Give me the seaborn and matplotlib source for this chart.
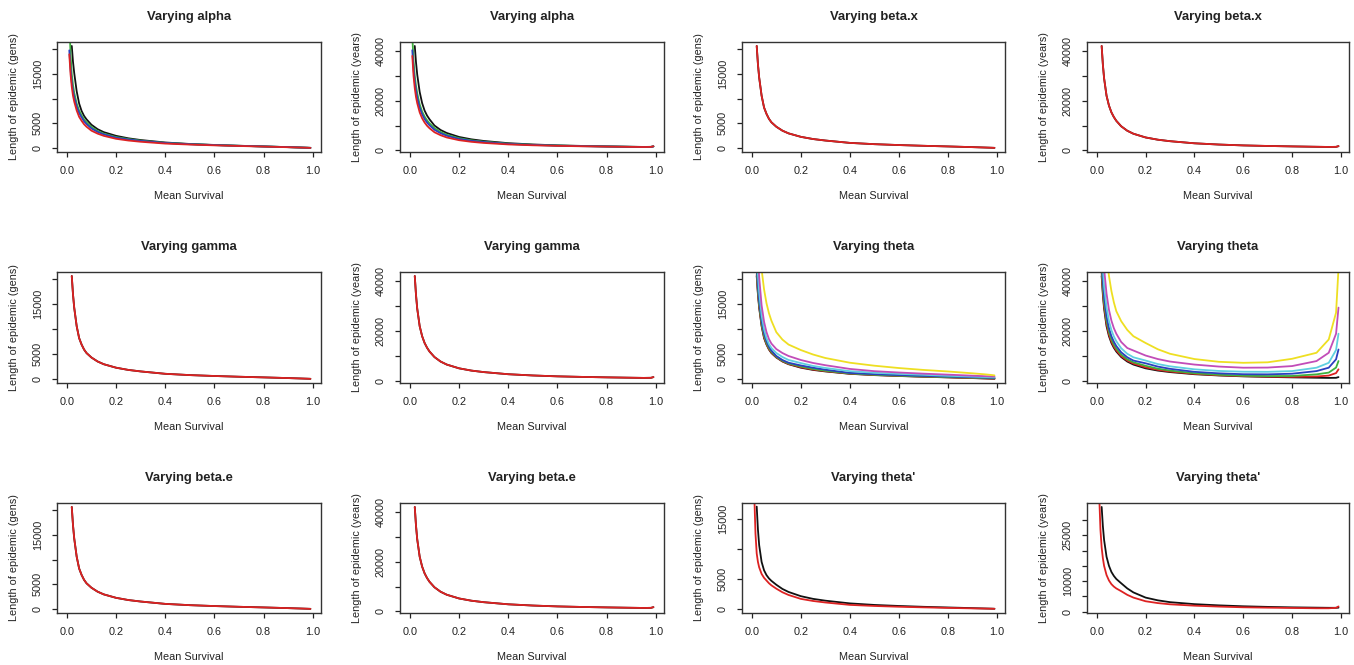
import numpy as np
import pandas as pd
import seaborn as sns
import matplotlib.pyplot as plt

sns.set_theme(style="ticks")
plt.rcParams["font.family"] = ["Liberation Sans", "DejaVu Sans"]

nan = np.nan

# Mean survival grid shared by every curve
survival = [0.01, 0.015, 0.02, 0.025, 0.03, 0.04, 0.05, 0.06, 0.07, 0.08, 0.1,
            0.125, 0.15, 0.2, 0.25, 0.3, 0.4, 0.5, 0.6, 0.7, 0.8, 0.9, 0.95,
            0.98, 0.99]

# Baseline curve (gamma, beta.x, beta.e panels)
base_gens = [nan, nan, 20700, 17000, 14300, 10600, 8200, 6900, 5900, 5200, 4300,
             3500, 2950, 2250, 1800, 1500, 1020, 760, 580, 430, 300, 160, 80, 30, 10]
base_years = [nan, nan, 42000, 34500, 29000, 22000, 18000, 15300, 13400, 11900, 9700,
              7900, 6700, 5200, 4300, 3700, 2850, 2350, 2000, 1780, 1600, 1450, 1380,
              1420, 1700]

# Varying alpha
alpha_gens_black = [nan, nan, 20700, 17500, 15200, 11500, 9000, 7500, 6500, 5800, 4700,
                    3800, 3200, 2450, 1950, 1600, 1100, 800, 600, 440, 300, 160, 80, 30, 10]
alpha_gens_green = [26000, 19000, 15000, 12800, 11200, 9000, 7600, 6600, 5800, 5200, 4250,
                    3450, 2900, 2200, 1800, 1480, 1030, 770, 580, 430, 300, 160, 80, 30, 10]
alpha_gens_blue = [19800, 16000, 13300, 11600, 10300, 8400, 7100, 6200, 5400, 4850, 3950,
                   3250, 2750, 2080, 1700, 1420, 1000, 750, 570, 420, 295, 155, 80, 30, 10]
alpha_gens_red = [19000, 15000, 12400, 10600, 9400, 7600, 6300, 5500, 4800, 4300, 3500,
                  2900, 2450, 1850, 1500, 1250, 880, 680, 520, 390, 270, 140, 70, 25, 5]
alpha_years_black = [nan, nan, 42000, 35500, 30500, 23500, 19000, 16000, 14000, 12500, 10000,
                     8200, 7000, 5400, 4450, 3800, 2900, 2380, 2020, 1790, 1610, 1460, 1390,
                     1420, 1600]
alpha_years_green = [46000, 36000, 30000, 26000, 23000, 18500, 15600, 13600, 12100, 10900, 9000,
                     7400, 6300, 4900, 4050, 3500, 2700, 2250, 1950, 1740, 1580, 1440, 1380,
                     1410, 1600]
alpha_years_blue = [40300, 32500, 27500, 24000, 21200, 17200, 14500, 12600, 11200, 10100, 8300,
                    6900, 5900, 4600, 3850, 3350, 2600, 2180, 1900, 1700, 1560, 1430, 1370,
                    1410, 1600]
alpha_years_red = [38000, 30000, 25000, 21500, 19000, 15300, 12900, 11200, 9900, 8900, 7300,
                   6100, 5200, 4100, 3450, 3000, 2400, 2050, 1820, 1650, 1520, 1400, 1350,
                   1400, 1650]

# Varying theta
theta_gens_red = [nan, nan, 21000, 17300, 14600, 10800, 8400, 7000, 6000, 5300, 4350,
                  3550, 3000, 2350, 1880, 1560, 1050, 790, 600, 450, 320, 180, 110, 60, 45]
theta_gens_green = [nan, nan, 21800, 17800, 15000, 11100, 8700, 7200, 6200, 5450, 4450,
                    3650, 3100, 2500, 2000, 1650, 1100, 830, 640, 490, 370, 240, 170, 120, 100]
theta_gens_blue = [nan, nan, 23000, 18800, 15800, 11700, 9200, 7600, 6500, 5700, 4600,
                   3800, 3250, 2700, 2250, 1850, 1200, 950, 760, 600, 470, 330, 260, 220, 200]
theta_gens_cyan = [nan, nan, 26000, 21000, 17500, 12800, 10000, 8200, 7000, 6200, 5200,
                   4400, 3800, 3180, 2600, 2200, 1550, 1230, 1010, 820, 620, 450, 370, 320, 300]
theta_gens_magenta = [nan, nan, 32000, 25000, 20500, 14800, 11500, 9400, 8000, 7100, 6000,
                      5200, 4600, 3800, 3200, 2750, 2000, 1550, 1280, 1050, 850, 640, 540,
                      480, 460]
theta_gens_yellow = [nan, nan, 50000, 40000, 32000, 22000, 18000, 15200, 13200, 11700, 9400,
                     7900, 6900, 5800, 4900, 4200, 3250, 2650, 2180, 1800, 1490, 1120, 920,
                     770, 700]
theta_years_red = [nan, nan, 43000, 35500, 30000, 23000, 18700, 15900, 13900, 12400, 10100,
                   8300, 7100, 5600, 4600, 3950, 3000, 2450, 2100, 1900, 1800, 1950, 2300,
                   3300, 4800]
theta_years_green = [nan, nan, 45000, 37500, 31700, 24300, 19800, 16800, 14700, 13100, 10700,
                     8800, 7600, 6200, 5050, 4300, 3250, 2650, 2250, 2100, 2150, 2800, 3500,
                     5500, 8100]
theta_years_blue = [nan, nan, 48000, 40000, 34000, 26000, 21200, 18000, 15800, 14100, 11600,
                    9600, 8300, 7200, 5900, 5000, 3800, 3200, 2850, 2800, 3050, 4100, 5450,
                    8800, 12700]
theta_years_cyan = [nan, nan, 54000, 45000, 38000, 29500, 24000, 20400, 17900, 16000, 13200,
                    11000, 9600, 8300, 6900, 6000, 4800, 4150, 3850, 3800, 4100, 5450, 7400,
                    12500, 19000]
theta_years_magenta = [nan, nan, 64000, 53000, 45000, 35000, 28500, 24200, 21200, 19000, 15700,
                       13300, 12300, 10300, 8900, 7900, 6700, 5900, 5450, 5500, 6100, 8100,
                       11400, 19000, 29400]
theta_years_yellow = [nan, nan, 95000, 78000, 66000, 50000, 42000, 36000, 31500, 28000, 24000,
                      20500, 18000, 15300, 12800, 11000, 8900, 7800, 7400, 7600, 9000, 11400,
                      16700, 27400, 45000]

# Varying theta'
thetap_gens_black = [nan, nan, 17000, 13200, 10600, 7800, 6400, 5600, 5050, 4650, 4000,
                     3300, 2800, 2100, 1650, 1350, 900, 640, 470, 330, 220, 110, 55, 20, 5]
thetap_gens_red = [19000, 12500, 9200, 7800, 6900, 5800, 5150, 4700, 4250, 3900, 3350,
                   2750, 2300, 1650, 1300, 1050, 650, 470, 340, 240, 150, 70, 35, 10, 0]
thetap_years_black = [nan, nan, 34300, 28000, 23500, 18000, 15000, 13000, 11700, 10700, 9300,
                      7600, 6300, 4600, 3700, 3100, 2450, 2050, 1750, 1550, 1400, 1300, 1250,
                      1250, 1300]
thetap_years_red = [38000, 27000, 21000, 17500, 15000, 12000, 10200, 9000, 8200, 7600, 6700,
                    5500, 4600, 3400, 2800, 2400, 1950, 1650, 1420, 1300, 1200, 1100, 1100,
                    1250, 1700]

x_ticks = [0.0, 0.2, 0.4, 0.6, 0.8, 1.0]
x_tick_labels = ["0.0", "0.2", "0.4", "0.6", "0.8", "1.0"]

colors = {
    "black": "#111111",
    "red": "#DD2222",
    "green": "#3DB03D",
    "blue": "#2B3FBF",
    "cyan": "#5FD0E0",
    "magenta": "#C24CB8",
    "yellow": "#EEDF22",
}

gens_label = "Length of epidemic (gens)"
years_label = "Length of epidemic (years)"

# y axis setups: (limits, tick values, shown labels)
gens_axis = ((-830, 21500), [0, 5000, 10000, 15000, 20000], ["0", "5000", "", "15000", ""])
years_axis = ((-650, 43600), [0, 10000, 20000, 30000, 40000], ["0", "", "20000", "", "40000"])
thetap_gens_axis = ((-700, 17600), [0, 5000, 10000, 15000], ["0", "5000", "", "15000"])
thetap_years_axis = ((-450, 35600), [0, 5000, 10000, 15000, 20000, 25000, 30000],
                     ["0", "", "10000", "", "", "25000", ""])

panels = [
    ("Varying alpha", gens_label, gens_axis,
     [("black", alpha_gens_black), ("green", alpha_gens_green),
      ("blue", alpha_gens_blue), ("red", alpha_gens_red)]),
    ("Varying alpha", years_label, years_axis,
     [("black", alpha_years_black), ("green", alpha_years_green),
      ("blue", alpha_years_blue), ("red", alpha_years_red)]),
    ("Varying beta.x", gens_label, gens_axis, [("black", base_gens), ("red", base_gens)]),
    ("Varying beta.x", years_label, years_axis, [("black", base_years), ("red", base_years)]),
    ("Varying gamma", gens_label, gens_axis, [("black", base_gens), ("red", base_gens)]),
    ("Varying gamma", years_label, years_axis, [("black", base_years), ("red", base_years)]),
    ("Varying theta", gens_label, gens_axis,
     [("black", base_gens), ("red", theta_gens_red), ("green", theta_gens_green),
      ("blue", theta_gens_blue), ("cyan", theta_gens_cyan),
      ("magenta", theta_gens_magenta), ("yellow", theta_gens_yellow)]),
    ("Varying theta", years_label, years_axis,
     [("black", base_years), ("red", theta_years_red), ("green", theta_years_green),
      ("blue", theta_years_blue), ("cyan", theta_years_cyan),
      ("magenta", theta_years_magenta), ("yellow", theta_years_yellow)]),
    ("Varying beta.e", gens_label, gens_axis, [("black", base_gens), ("red", base_gens)]),
    ("Varying beta.e", years_label, years_axis, [("black", base_years), ("red", base_years)]),
    ("Varying theta'", gens_label, thetap_gens_axis,
     [("black", thetap_gens_black), ("red", thetap_gens_red)]),
    ("Varying theta'", years_label, thetap_years_axis,
     [("black", thetap_years_black), ("red", thetap_years_red)]),
]

W, H = 1354, 665
col_px = [(57, 321), (400, 664), (742, 1005), (1087, 1349)]
row_px = [(42, 152), (272, 383), (503, 613)]

fig = plt.figure(figsize=(W / 100, H / 100), dpi=100)
ink = "#222222"

for i, (title, ylabel, (ylim, yticks, ylabels), curves) in enumerate(panels):
    r, c = divmod(i, 4)
    x0, x1 = col_px[c]
    y0, y1 = row_px[r]
    ax = fig.add_axes([x0 / W, 1 - y1 / H, (x1 - x0) / W, (y1 - y0) / H])

    for color_name, values in curves:
        df = pd.DataFrame({"survival": survival, "length": values}).dropna()
        sns.lineplot(data=df, x="survival", y="length", color=colors[color_name],
                     linewidth=1.3, estimator=None, sort=False, ax=ax)

    ax.set_xlim(-0.04, 1.033)
    ax.set_ylim(*ylim)
    ax.set_xticks(x_ticks)
    ax.set_xticklabels(x_tick_labels)
    ax.set_yticks(yticks)
    ax.set_yticklabels(ylabels, rotation=90, va="center")

    ax.set_title(title, fontsize=9.4, fontweight="bold", color=ink, pad=16)
    ax.set_xlabel("Mean Survival", fontsize=7.8, color=ink, labelpad=11)
    ax.set_ylabel(ylabel, fontsize=7.8, color=ink, labelpad=10)
    ax.tick_params(axis="both", length=3.6, width=0.9, color=ink, labelsize=7.8,
                   labelcolor=ink, pad=6.5)
    for spine in ax.spines.values():
        spine.set_visible(True)
        spine.set_color("#333333")
        spine.set_linewidth(1.0)

fig.savefig("out.png", dpi=100, facecolor="white")
